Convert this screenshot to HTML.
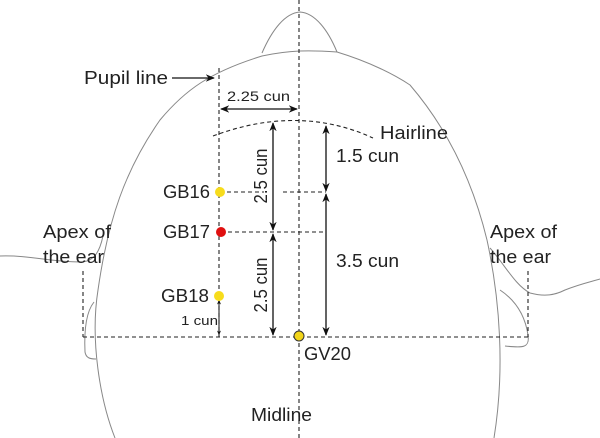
<!DOCTYPE html>
<html><head><style>
body{margin:0;background:#fff}
svg{display:block}
text{font-family:"Liberation Sans",sans-serif;fill:#222}
</style></head><body>
<svg width="600" height="438" viewBox="0 0 600 438" xmlns="http://www.w3.org/2000/svg">
<defs>
<marker id="a" viewBox="0 0 10 10" refX="9" refY="5" markerWidth="7" markerHeight="7" orient="auto-start-reverse"><path d="M0,1 L10,5 L0,9 L3,5 Z" fill="#111"/></marker>
<marker id="s" viewBox="0 0 10 10" refX="9" refY="5" markerWidth="5" markerHeight="5" orient="auto-start-reverse"><path d="M0,1 L10,5 L0,9 L3,5 Z" fill="#111"/></marker>
</defs>
<g fill="none" stroke="#888" stroke-width="1">
<path d="M262,53 C272,30 285,13 300,12 C315,13 328,30 337,52"/>
<path d="M115,438 C100,400 90,340 98,290 C108,220 125,170 160,120 C185,90 210,72 262,56 C290,50 310,50 337,52 C370,62 395,75 410,85 C440,120 470,170 487,240 C500,300 505,370 494,438"/>
<path d="M0,256 C30,255 50,262 80,262 C95,262 100,250 103,236"/>
<path d="M94,302 C86,312 84,330 85,352 C86,358 90,359 96,359"/>
<path d="M490,248 C505,265 515,285 530,293 C545,297 555,295 565,290 C580,284 590,282 600,279"/>
<path d="M500,290 C515,300 525,315 528,335 C530,348 523,348 505,346"/>
</g>
<g fill="none" stroke="#222" stroke-width="1.1" stroke-dasharray="4,3">
<line x1="299" y1="0" x2="299" y2="438"/>
<line x1="219" y1="68" x2="219" y2="337"/>
<line x1="83" y1="337" x2="530" y2="337"/>
<line x1="83" y1="271" x2="83" y2="337"/>
<line x1="528" y1="271" x2="528" y2="337"/>
<path d="M213,136 Q299,104 373,138"/>
<line x1="220" y1="192" x2="264" y2="192"/>
<line x1="283" y1="192" x2="326" y2="192"/>
<line x1="221" y1="232" x2="326" y2="232"/>
</g>
<g stroke="#111" stroke-width="1.3" fill="none">
<line x1="172" y1="78" x2="214" y2="78" marker-end="url(#a)"/>
<line x1="221" y1="109" x2="297" y2="109" marker-start="url(#a)" marker-end="url(#a)"/>
<line x1="273" y1="123" x2="273" y2="230" marker-start="url(#a)" marker-end="url(#a)"/>
<line x1="273" y1="234" x2="273" y2="335" marker-start="url(#a)" marker-end="url(#a)"/>
<line x1="326" y1="126" x2="326" y2="191" marker-start="url(#a)" marker-end="url(#a)"/>
<line x1="326" y1="194" x2="326" y2="335" marker-start="url(#a)" marker-end="url(#a)"/>
<line x1="219" y1="300" x2="219" y2="335" stroke-width="1" marker-start="url(#s)" marker-end="url(#s)"/>
</g>
<circle cx="220" cy="192" r="5" fill="#f7dc1c"/>
<circle cx="221" cy="232" r="5" fill="#e01010"/>
<circle cx="219" cy="296" r="5" fill="#f7dc1c"/>
<circle cx="299" cy="336" r="5" fill="#f2d51a" stroke="#333" stroke-width="1"/>
<g font-size="18" lengthAdjust="spacingAndGlyphs">
<text x="84" y="84" textLength="84" lengthAdjust="spacingAndGlyphs">Pupil line</text>
<text x="380" y="139" textLength="68" lengthAdjust="spacingAndGlyphs">Hairline</text>
<text x="336" y="162" textLength="63" lengthAdjust="spacingAndGlyphs">1.5 cun</text>
<text x="336" y="267" textLength="63" lengthAdjust="spacingAndGlyphs">3.5 cun</text>
<text x="163" y="198" textLength="47" lengthAdjust="spacingAndGlyphs">GB16</text>
<text x="163" y="238" textLength="47" lengthAdjust="spacingAndGlyphs">GB17</text>
<text x="161" y="302" textLength="48" lengthAdjust="spacingAndGlyphs">GB18</text>
<text x="304" y="360" textLength="47" lengthAdjust="spacingAndGlyphs">GV20</text>
<text x="251" y="421" textLength="61" lengthAdjust="spacingAndGlyphs">Midline</text>
<text x="43" y="238" textLength="68" lengthAdjust="spacingAndGlyphs">Apex of</text>
<text x="43" y="263" textLength="61" lengthAdjust="spacingAndGlyphs">the ear</text>
<text x="490" y="238" textLength="67" lengthAdjust="spacingAndGlyphs">Apex of</text>
<text x="490" y="263" textLength="61" lengthAdjust="spacingAndGlyphs">the ear</text>
<text transform="translate(267,176) rotate(-90)" text-anchor="middle" textLength="55" lengthAdjust="spacingAndGlyphs">2.5 cun</text>
<text transform="translate(267,285) rotate(-90)" text-anchor="middle" textLength="55" lengthAdjust="spacingAndGlyphs">2.5 cun</text>
</g>
<text x="227" y="101" font-size="14" textLength="63" lengthAdjust="spacingAndGlyphs">2.25 cun</text>
<text x="181" y="325" font-size="13" textLength="37" lengthAdjust="spacingAndGlyphs">1 cun</text>
</svg>
</body></html>
